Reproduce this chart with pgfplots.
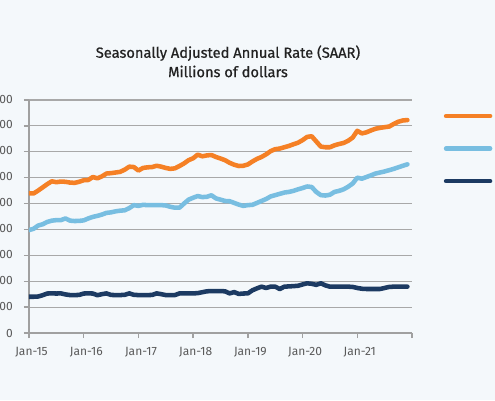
\documentclass[border=0pt]{standalone}
\usepackage{pgfplots}
\usepackage{pgfplotstable}
\pgfplotsset{compat=1.18}
\usepackage{fontspec}
\setmainfont{Fira Sans}
\newfontfamily\titlefont{Fira Sans}[FakeBold=0.7]
\definecolor{bgc}{HTML}{F4F8FB}
\definecolor{orangec}{HTML}{F58025}
\definecolor{lbluec}{HTML}{78BEE1}
\definecolor{navyc}{HTML}{1C3A62}
\definecolor{gridc}{HTML}{A8A8A8}
\definecolor{axisc}{HTML}{A0A0A0}
\definecolor{labc}{HTML}{595959}
\definecolor{titlec}{HTML}{222222}

\pgfplotstableread{
m total private public
0 1080000 795000 280000
1 1078000 805000 280000
2 1100000 830000 282000
3 1125000 840000 292000
4 1150000 858000 305000
5 1172000 868000 306000
6 1165000 872000 305000
7 1170000 872000 306000
8 1168000 885000 298000
9 1162000 868000 293000
10 1160000 865000 293000
11 1168000 866000 294000
12 1180000 870000 305000
13 1182000 885000 306000
14 1205000 897000 305000
15 1195000 905000 292000
16 1210000 915000 300000
17 1232000 928000 306000
18 1235000 932000 294000
19 1240000 940000 293000
20 1245000 945000 293000
21 1262000 948000 295000
22 1285000 965000 306000
23 1282000 988000 295000
24 1255000 982000 293000
25 1275000 990000 293000
26 1280000 988000 293000
27 1282000 988000 294000
28 1292000 988000 306000
29 1285000 988000 300000
30 1275000 985000 293000
31 1268000 975000 293000
32 1272000 968000 293000
33 1290000 968000 306000
34 1310000 1000000 306000
35 1335000 1030000 306000
36 1350000 1045000 306000
37 1378000 1058000 308000
38 1365000 1050000 315000
39 1372000 1052000 322000
40 1375000 1064000 324000
41 1360000 1040000 324000
42 1348000 1030000 324000
43 1335000 1020000 322000
44 1315000 1018000 306000
45 1300000 1005000 316000
46 1290000 992000 302000
47 1292000 982000 305000
48 1302000 988000 306000
49 1325000 990000 330000
50 1345000 1005000 345000
51 1360000 1020000 358000
52 1380000 1035000 348000
53 1405000 1055000 358000
54 1420000 1065000 358000
55 1425000 1075000 340000
56 1435000 1085000 358000
57 1445000 1090000 360000
58 1458000 1098000 362000
59 1470000 1110000 365000
60 1490000 1120000 375000
61 1515000 1132000 384000
62 1520000 1128000 380000
63 1480000 1090000 372000
64 1440000 1065000 384000
65 1435000 1062000 368000
66 1435000 1068000 358000
67 1450000 1090000 358000
68 1460000 1098000 358000
69 1468000 1110000 358000
70 1485000 1130000 358000
71 1510000 1155000 356000
72 1562000 1200000 348000
73 1542000 1192000 342000
74 1550000 1205000 340000
75 1565000 1218000 340000
76 1578000 1232000 340000
77 1585000 1240000 340000
78 1590000 1248000 348000
79 1595000 1258000 356000
80 1615000 1268000 358000
81 1632000 1280000 358000
82 1642000 1292000 358000
83 1645000 1303000 358000
}\datatable

\begin{document}
\begin{tikzpicture}
\useasboundingbox (0pt,0pt) rectangle (371.25pt,300pt);
\fill[bgc] (0pt,0pt) rectangle (371.25pt,300pt);
\clip (0pt,0pt) rectangle (371.25pt,300pt);
\begin{axis}[
  at={(21.75pt,50.25pt)}, anchor=south west,
  width=287.25pt, height=174.75pt, scale only axis,
  xmin=0, xmax=84, ymin=0, ymax=1800000,
  axis lines=left,
  axis line style={-, draw=axisc, line width=1.2pt},
  xtick={0,12,...,84},
  xticklabels={Jan-15,Jan-16,Jan-17,Jan-18,Jan-19,Jan-20,Jan-21,{}},
  ytick={0,200000,...,1800000},
  scaled y ticks=false,
  /pgf/number format/fixed,
  /pgf/number format/precision=0,
  /pgf/number format/1000 sep={,},
  /pgf/number format/assume math mode=true,
  ymajorgrids,
  grid style={draw=gridc, line width=0.9pt},
  tick align=outside,
  major tick length=3.75pt,
  tick style={draw=axisc, line width=1pt},
  ticklabel style={font=\fontsize{9}{11}\selectfont, text=labc},
  xticklabel style={anchor=center, yshift=-10.5pt, xshift=1.9pt, inner sep=0pt},
  yticklabel style={anchor=east, xshift=-8.25pt, inner sep=0pt},
  title={Seasonally Adjusted Annual Rate (SAAR)\\Millions of dollars},
  title style={at={(0.5196,1)}, anchor=center, yshift=23pt, align=center,
    font=\titlefont\fontsize{11}{14.5}\selectfont, text=titlec},
  every axis plot/.append style={line width=3.4pt, line join=round, line cap=round, mark=none},
  legend style={at={(1.0824,0.955)}, anchor=north west, draw=none, fill=none,
    inner sep=0pt, row sep=16.4pt,
    nodes={inner sep=0pt, text height=6pt, text depth=2pt, font=\fontsize{9}{11}\selectfont, text=labc}},
  legend image code/.code={\draw[#1, line width=3.4pt, line cap=round] (1.5pt,0pt) -- (34.5pt,0pt);},
  legend cell align=left,
]
\addplot[orangec] table[x=m, y=total] {\datatable};
\addlegendentry{\hspace{6pt}Total}
\addplot[lbluec] table[x=m, y=private] {\datatable};
\addlegendentry{\hspace{6pt}Private}
\addplot[navyc] table[x=m, y=public] {\datatable};
\addlegendentry{\hspace{6pt}Public}
\end{axis}
\end{tikzpicture}
\end{document}
